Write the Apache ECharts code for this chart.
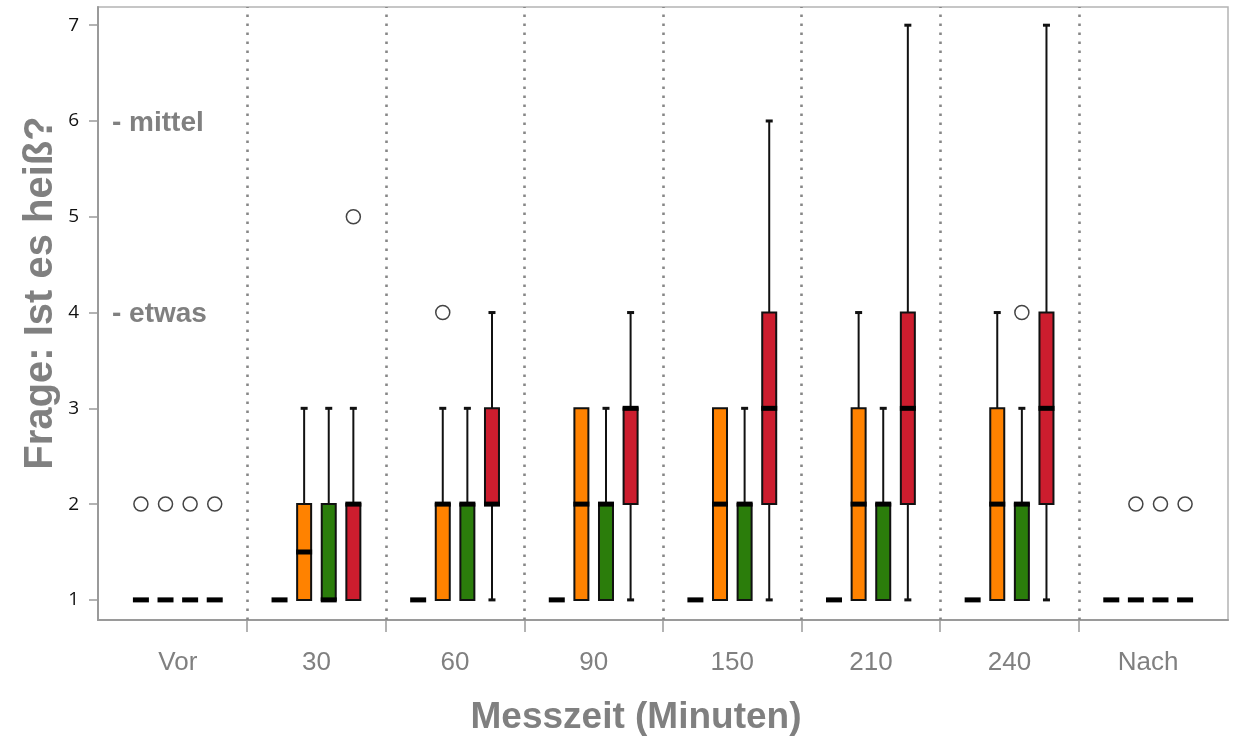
<!DOCTYPE html>
<html>
<head>
<meta charset="utf-8">
<script src="https://cdn.jsdelivr.net/npm/echarts@6/dist/echarts.min.js"></script>
<style>
  html, body { margin: 0; padding: 0; background: #ffffff; }
  #chart { width: 1237px; height: 740px; }
</style>
</head>
<body>
<div id="chart"></div>
<script>
// Measurement times (x categories) and rating scale ticks
const categories = ['Vor', '30', '60', '90', '150', '210', '240', 'Nach'];
const yTicks = [1, 2, 3, 4, 5, 6, 7];

// Five-number summaries per category: [min, Q1, median, Q3, max]
const schwarz = [
  [1, 1, 1, 1, 1], [1, 1, 1, 1, 1], [1, 1, 1, 1, 1], [1, 1, 1, 1, 1],
  [1, 1, 1, 1, 1], [1, 1, 1, 1, 1], [1, 1, 1, 1, 1], [1, 1, 1, 1, 1]
];
const orange = [
  [1, 1, 1, 1, 1], [1, 1, 1.5, 2, 3], [1, 1, 2, 2, 3], [1, 1, 2, 3, 3],
  [1, 1, 2, 3, 3], [1, 1, 2, 3, 4], [1, 1, 2, 3, 4], [1, 1, 1, 1, 1]
];
const gruen = [
  [1, 1, 1, 1, 1], [1, 1, 1, 2, 3], [1, 1, 2, 2, 3], [1, 1, 2, 2, 3],
  [1, 1, 2, 2, 3], [1, 1, 2, 2, 3], [1, 1, 2, 2, 3], [1, 1, 1, 1, 1]
];
const rot = [
  [1, 1, 1, 1, 1], [1, 1, 2, 2, 3], [1, 2, 2, 3, 4], [1, 2, 3, 3, 4],
  [1, 2, 3, 4, 6], [1, 2, 3, 4, 7], [1, 2, 3, 4, 7], [1, 1, 1, 1, 1]
];

// Outliers: [category index, value]
const schwarzOut = [[0, 2]];
const orangeOut = [[0, 2], [2, 4], [7, 2]];
const gruenOut = [[0, 2], [6, 4], [7, 2]];
const rotOut = [[0, 2], [1, 5], [7, 2]];

// Scale level annotations
const levelNotes = [
  { text: '- mittel', value: 6 },
  { text: '- etwas', value: 4 }
];

const groups = [
  { name: 'schwarz', color: '#000000', boxes: schwarz, outliers: schwarzOut },
  { name: 'orange', color: '#ff8200', boxes: orange, outliers: orangeOut },
  { name: 'grün', color: '#2b7d0b', boxes: gruen, outliers: gruenOut },
  { name: 'rot', color: '#cc1d2e', boxes: rot, outliers: rotOut }
];

// layout of the four boxes inside one category band (fractions of band width)
const SLOT_STEP = 0.1775;
const BOX_FRAC = 0.101;
const EDGE_PAD = 0.0758;
const GREY = '#808080';

function slotX(api, ci, slot) {
  const band = api.size([1, 0])[0];
  return api.coord([ci, 0])[0] + (slot - (groups.length - 1) / 2) * band * SLOT_STEP;
}

function boxRenderer(slot, color) {
  return function (params, api) {
    const ci = api.value(0);
    const band = api.size([1, 0])[0];
    const cx = slotX(api, ci, slot);
    const w = band * BOX_FRAC;
    const y = (v) => api.coord([ci, v])[1];
    const vMin = api.value(1), q1 = api.value(2), med = api.value(3), q3 = api.value(4), vMax = api.value(5);
    const children = [];
    const wStyle = { stroke: '#111', lineWidth: 2 };
    const capStyle = { stroke: '#111', lineWidth: 3 };
    if (vMax > q3) {
      children.push({ type: 'line', shape: { x1: cx, y1: y(vMax), x2: cx, y2: y(q3) }, style: wStyle });
      children.push({ type: 'line', shape: { x1: cx - 3.5, y1: y(vMax), x2: cx + 3.5, y2: y(vMax) }, style: capStyle });
    }
    if (vMin < q1) {
      children.push({ type: 'line', shape: { x1: cx, y1: y(q1), x2: cx, y2: y(vMin) }, style: wStyle });
      children.push({ type: 'line', shape: { x1: cx - 3.5, y1: y(vMin), x2: cx + 3.5, y2: y(vMin) }, style: capStyle });
    }
    if (q3 > q1) {
      children.push({
        type: 'rect',
        shape: { x: cx - w / 2, y: y(q3), width: w, height: y(q1) - y(q3) },
        style: { fill: color, stroke: '#111', lineWidth: 2 }
      });
    }
    children.push({
      type: 'rect',
      shape: { x: cx - w / 2 - 1, y: y(med) - 2.5, width: w + 2, height: 5 },
      style: { fill: '#000' }
    });
    return { type: 'group', children: children };
  };
}

function outlierRenderer(slot) {
  return function (params, api) {
    const ci = api.value(0);
    const cx = slotX(api, ci, slot);
    const cy = api.coord([ci, api.value(1)])[1];
    return {
      type: 'circle',
      shape: { cx: cx, cy: cy, r: 7 },
      style: { fill: '#ffffff', stroke: '#444', lineWidth: 1.5 }
    };
  };
}

const series = [];
groups.forEach(function (g, slot) {
  const s = {
    type: 'custom',
    name: g.name,
    renderItem: boxRenderer(slot, g.color),
    encode: { x: 0, y: [1, 2, 3, 4, 5] },
    data: g.boxes.map((b, i) => [i].concat(b)),
    z: 3
  };
  if (slot === 0) {
    s.markLine = {
      silent: true,
      symbol: 'none',
      label: { show: false },
      lineStyle: { type: [2.5, 6.5], color: '#878787', width: 2.6 },
      data: categories.slice(1).map((c, i) => ({ xAxis: i + 0.5 }))
    };
  }
  series.push(s);
  series.push({
    type: 'custom',
    name: g.name + ' Ausreißer',
    renderItem: outlierRenderer(slot),
    encode: { x: 0, y: 1 },
    data: g.outliers,
    z: 4
  });
});

const chart = echarts.init(document.getElementById('chart'), null, { renderer: 'canvas' });

chart.setOption({
  animation: false,
  backgroundColor: '#ffffff',
  grid: {
    left: 98, right: 9, top: 7, bottom: 120,
    show: true, borderColor: '#b4b4b4', borderWidth: 1.5, backgroundColor: 'transparent'
  },
  xAxis: {
    type: 'value',
    min: -0.5 - EDGE_PAD,
    max: categories.length - 0.5 + EDGE_PAD,
    splitLine: { show: false },
    axisLine: { show: true, onZero: false, lineStyle: { color: '#9a9a9a', width: 2 } },
    axisTick: {
      show: true, length: 12, lineStyle: { color: '#9a9a9a', width: 1.5 },
      customValues: categories.slice(1).map((c, i) => i + 0.5)
    },
    axisLabel: {
      customValues: categories.map((c, i) => i),
      formatter: (v) => categories[Math.round(v)],
      color: GREY, fontFamily: 'Liberation Sans', fontSize: 26, margin: 30
    }
  },
  yAxis: {
    type: 'value',
    min: 0.79,
    max: 7.19,
    splitLine: { show: false },
    axisLine: { show: true, onZero: false, lineStyle: { color: '#9a9a9a', width: 2 } },
    axisTick: { show: true, length: 9, lineStyle: { color: '#9a9a9a', width: 1.5 }, customValues: yTicks },
    axisLabel: {
      customValues: yTicks,
      color: '#111111', fontFamily: 'Open Sans', fontSize: 19, margin: 19
    }
  },
  series: series
});

const noteTexts = levelNotes.map(function (n) {
  const py = chart.convertToPixel({ xAxisIndex: 0, yAxisIndex: 0 }, [0, n.value])[1];
  return {
    type: 'text', x: 112, y: py + 2, z: 10,
    style: {
      text: n.text, fill: GREY, font: 'bold 28px "Liberation Sans"',
      textAlign: 'left', textVerticalAlign: 'middle'
    }
  };
});

chart.setOption({
  graphic: [
    {
      type: 'text', x: 41, y: 293, rotation: Math.PI / 2, z: 10,
      style: {
        text: 'Frage: Ist es heiß?', fill: GREY, font: 'bold 40px "Liberation Sans"',
        textAlign: 'center', textVerticalAlign: 'middle'
      }
    },
    {
      type: 'text', x: 636, y: 718, z: 10,
      style: {
        text: 'Messzeit (Minuten)', fill: GREY, font: 'bold 37px "Liberation Sans"',
        textAlign: 'center', textVerticalAlign: 'middle'
      }
    }
  ].concat(noteTexts)
});
</script>
</body>
</html>
